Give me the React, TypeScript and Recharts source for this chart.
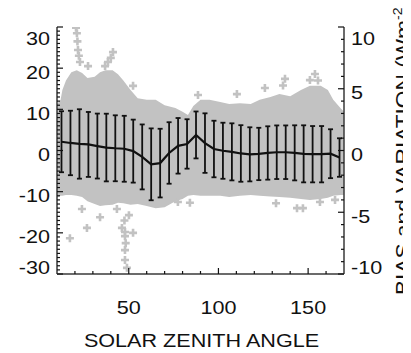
import {
  Area,
  ComposedChart,
  ErrorBar,
  Label,
  Line,
  Scatter,
  XAxis,
  YAxis,
} from "recharts";

const FONT = "'Liberation Sans', Arial, Helvetica, sans-serif";
const SX = 1.2; // the original lettering is drawn wide
const GRAY = "#c2c2c2";
const INK = "#111";
const FRAME = "#3a3a3a";

/* ============ data ============ */

// 5° bins of solar zenith angle, mean bias and its variation (Wm-2, right axis)
const binAngle = [
  12.5, 17.5, 22.5, 27.5, 32.5, 37.5, 42.5, 47.5, 52.5, 57.5, 62.5, 67.5, 72.5, 77.5, 82.5, 87.5,
  92.5, 97.5, 102.5, 107.5, 112.5, 117.5, 122.5, 127.5, 132.5, 137.5, 142.5, 147.5, 152.5, 157.5,
  162.5, 167.5,
];
const binBias = [
  0.71, 0.61, 0.53, 0.49, 0.36, 0.24, 0.18, 0.14, -0.05, -0.52, -1.12, -1.02, -0.2, 0.38, 0.53,
  1.26, 0.6, 0.12, -0.02, -0.11, -0.24, -0.31, -0.28, -0.2, -0.14, -0.14, -0.19, -0.27, -0.3,
  -0.3, -0.26, -0.57,
];
const binVariation = [
  2.47, 2.61, 2.81, 2.63, 2.63, 2.74, 2.67, 2.67, 2.55, 2.63, 2.91, 2.78, 2.49, 2.25, 2.0, 1.9,
  2.41, 2.29, 2.27, 2.31, 2.29, 2.19, 2.12, 2.16, 2.17, 2.17, 2.23, 2.31, 2.28, 2.28, 1.98, 1.56,
];

// outline of the dense cloud of individual differences (left axis)
const cloudAngle = [
  10, 12, 13, 15, 18, 21, 24, 27, 31, 34, 37, 41, 44, 47, 51, 55, 60, 65, 70, 76, 80, 83, 86, 90,
  95, 101, 106, 112, 118, 123, 129, 134, 140, 146, 151, 157, 161, 164, 168, 170,
];
const cloudHigh = [
  11.3, 12.3, 14.7, 17, 19, 19.5, 18.8, 17.6, 17.9, 19, 19.5, 19.5, 18.5, 17, 14.7, 12.7, 12.3,
  12.3, 11, 10.3, 9.4, 8.6, 10.8, 12.3, 12.3, 11.8, 11.3, 11.5, 11.3, 12.3, 13, 13.7, 13.2, 14.7,
  15.7, 15.7, 14.7, 12.3, 10.3, 9.4,
];
const cloudLow = [
  -11.5, -11, -11, -10.8, -10.8, -11, -11.3, -12.3, -13, -13.5, -13.3, -13.2, -12.7, -12.8,
  -13.2, -13, -13.5, -14, -13.8, -12.3, -11.8, -11, -10.8, -11, -11, -11, -11.3, -11, -10.8, -11,
  -11.2, -11.3, -11.5, -11.8, -12, -11.8, -11.5, -11, -10.8, -10.8,
];

// stray crosses outside the dense cloud
const strayAngle = [
  20.6, 21.1, 21.4, 21.7, 22.2, 22.8, 27.3, 41.2, 40, 38.4, 36.8, 52.4, 88.6, 110.3, 125.9, 137.1,
  136, 153.8, 151, 155.5, 17.2, 26.7, 34, 23.9, 43.4, 46.2, 47.9, 47.9, 47.9, 47.9, 48.3, 49,
  50.1, 52.4, 47.6, 77.4, 84.1, 132.1, 143.8, 147.1, 156.6, 165,
];
const strayValue = [
  29.8, 28.5, 26.5, 24.4, 23, 21.5, 20.5, 23.9, 22.5, 21.5, 20.5, 15.7, 13.5, 13.7, 15.2, 17.4,
  15.8, 18.6, 17.1, 17, -21.3, -18.8, -16.2, -14.2, -14.2, -18.8, -19.8, -20.8, -24.2, -26.6,
  -22.5, -28.5, -15.7, -20, -17, -12.5, -12.7, -12.8, -14, -14, -12.5, -12,
];

const xMajor = [50, 100, 150];
const xTicks = [20, 30, 40, 50, 60, 70, 80, 90, 100, 110, 120, 130, 140, 150, 160];
const leftMajor = [-30, -20, -10, 0, 10, 20, 30];
const rightMajor = [-10, -5, 0, 5, 10];
const leftTicks = Array.from({ length: 61 }, (_, i) => i - 30);
const rightTicks = Array.from({ length: 21 }, (_, i) => i - 10);

const binData = binAngle.map((x, i) => ({ x, bias: binBias[i], variation: binVariation[i] }));
const cloudData = cloudAngle.map((x, i) => ({ x, range: [cloudLow[i], cloudHigh[i]] }));
const strayData = strayAngle.map((x, i) => ({ x, y: strayValue[i] }));

/* ============ ticks ============ */

function stretched(x: number, y: number, text: string, anchor: "start" | "middle" | "end", size = 18) {
  return (
    <text
      transform={`translate(${x},${y}) scale(${SX},1)`}
      textAnchor={anchor}
      fontSize={size}
      fontFamily={FONT}
      fill={INK}
    >
      {text}
    </text>
  );
}

// label offset: inner labels sit a bit low, the end labels are pulled inside the frame
const labelShift = (v: number, max: number) => (v === max ? 12 : v === -max ? -6 : 4);

function LeftTick({ x, y, payload }: any) {
  const v = payload.value as number;
  const major = leftMajor.includes(v);
  return (
    <g>
      <line x1={x} x2={x + (major ? 6 : 3)} y1={y} y2={y} stroke={INK} strokeWidth={1.2} />
      {major && stretched(x - 7, y + labelShift(v, 30) + 6.4, String(v), "end")}
    </g>
  );
}

function RightTick({ x, y, payload }: any) {
  const v = payload.value as number;
  const major = rightMajor.includes(v);
  return (
    <g>
      <line x1={x} x2={x - (major ? 6 : 3)} y1={y} y2={y} stroke={INK} strokeWidth={1.2} />
      {major && stretched(x + 7, y + labelShift(v, 10) + 6.4, String(v), "start")}
    </g>
  );
}

function BottomTick({ x, y, payload }: any) {
  const v = payload.value as number;
  const major = xMajor.includes(v);
  return (
    <g>
      <line x1={x} x2={x} y1={y} y2={y - (major ? 6 : 3)} stroke={INK} strokeWidth={1.2} />
      {major && stretched(x, y + 40, String(v), "middle")}
    </g>
  );
}

function TopTick({ x, y, payload }: any) {
  const major = xMajor.includes(payload.value);
  return <line x1={x} x2={x} y1={y} y2={y + (major ? 6 : 3)} stroke={INK} strokeWidth={1.2} />;
}

function Cross({ cx, cy }: any) {
  return (
    <path
      d={`M${cx - 4},${cy}H${cx + 4}M${cx},${cy - 4}V${cy + 4}`}
      stroke={GRAY}
      strokeWidth={2.6}
    />
  );
}

/* ============ chart ============ */

export default function App() {
  return (
    <ComposedChart width={403} height={345} margin={{ top: 19, right: 0, bottom: 0, left: 0 }}>
      <XAxis
        dataKey="x"
        type="number"
        domain={[10, 170]}
        ticks={xTicks}
        interval={0}
        height={79}
        tickSize={0}
        tickMargin={0}
        tickLine={false}
        tick={BottomTick}
        axisLine={{ stroke: FRAME, strokeWidth: 1.5 }}
        allowDataOverflow
      >
        <Label
          content={({ viewBox }: any) =>
            stretched(viewBox.x + viewBox.width / 2 + 1, viewBox.y + 73, "SOLAR ZENITH ANGLE", "middle", 18)
          }
        />
      </XAxis>
      <XAxis
        xAxisId="top"
        dataKey="x"
        type="number"
        orientation="top"
        domain={[10, 170]}
        ticks={xTicks}
        interval={0}
        height={0}
        tickSize={0}
        tickMargin={0}
        tickLine={false}
        tick={TopTick}
        axisLine={{ stroke: FRAME, strokeWidth: 1.5 }}
        allowDataOverflow
      />
      <YAxis
        yAxisId="left"
        type="number"
        domain={[-30, 30]}
        ticks={leftTicks}
        interval={0}
        width={49}
        tickSize={0}
        tickMargin={0}
        tickLine={false}
        tick={LeftTick}
        axisLine={{ stroke: FRAME, strokeWidth: 1.5 }}
        allowDataOverflow
      />
      <YAxis
        yAxisId="right"
        orientation="right"
        type="number"
        domain={[-10, 10]}
        ticks={rightTicks}
        interval={0}
        width={67}
        tickSize={0}
        tickMargin={0}
        tickLine={false}
        tick={RightTick}
        axisLine={{ stroke: FRAME, strokeWidth: 1.5 }}
        allowDataOverflow
      >
        <Label
          content={({ viewBox }: any) => (
            <text
              transform={`translate(${viewBox.x + 66},${viewBox.y + viewBox.height + 21}) rotate(-90) scale(1.08,1)`}
              fontSize={21}
              fontFamily={FONT}
              fill={INK}
            >
              BIAS and VARIATION (Wm
              <tspan dy={-8} fontSize={13}>
                -2
              </tspan>
              <tspan dy={8}>)</tspan>
            </text>
          )}
        />
      </YAxis>

      <Area
        yAxisId="left"
        data={cloudData}
        dataKey="range"
        type="linear"
        stroke="none"
        fill={GRAY}
        fillOpacity={1}
        isAnimationActive={false}
      />
      <Scatter
        yAxisId="left"
        data={strayData}
        dataKey="y"
        shape={Cross}
        isAnimationActive={false}
      />
      <Line
        yAxisId="right"
        data={binData}
        dataKey="bias"
        type="linear"
        stroke={INK}
        strokeWidth={2.2}
        dot={false}
        isAnimationActive={false}
      >
        <ErrorBar dataKey="variation" direction="y" width={2.5} stroke={INK} strokeWidth={1.8} />
      </Line>
    </ComposedChart>
  );
}
